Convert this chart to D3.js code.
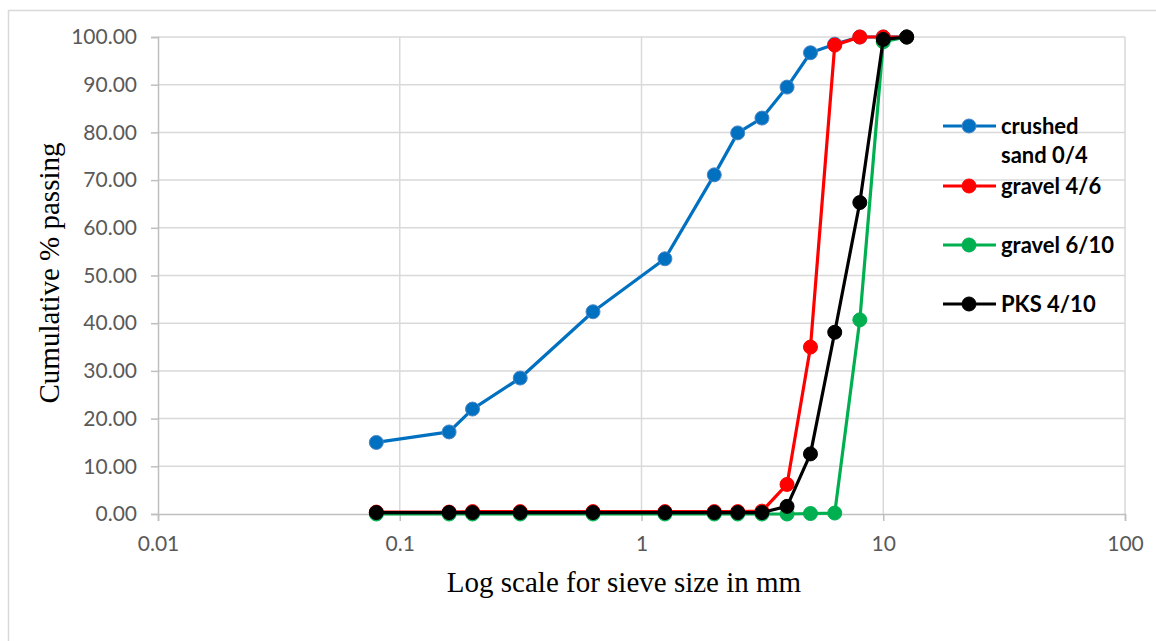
<!doctype html>
<html>
<head>
<meta charset="utf-8">
<script src="https://d3js.org/d3.v7.min.js"></script>
<style>
  body { margin: 0; background: #fff; }
  svg { display: block; }
  .tick text { font-family: Lato, "Open Sans", sans-serif; font-size: 21px; fill: #595959; }
  .title { font-family: "Liberation Serif", "Times New Roman", serif; font-size: 29px; fill: #000; }
  .legend text { font-family: Lato, sans-serif; font-weight: bold; font-size: 22px; fill: #000; }
</style>
</head>
<body>
<svg id="chart" width="1156" height="641"></svg>
<script>
// sieve sizes in mm
var sieves = [0.08, 0.16, 0.2, 0.315, 0.63, 1.25, 2, 2.5, 3.15, 4, 5, 6.3, 8, 10, 12.5];

var crushedSand = [15.0, 17.2, 22.0, 28.5, 42.4, 53.5, 71.1, 79.9, 83.0, 89.5, 96.7, 98.5, 100, 100, 100];
var gravel46    = [0.4, 0.4, 0.5, 0.5, 0.5, 0.5, 0.5, 0.5, 0.6, 6.2, 35.0, 98.3, 100, 100, 100];
var gravel610   = [0.0, 0.0, 0.0, 0.0, 0.0, 0.0, 0.0, 0.0, 0.0, 0.0, 0.1, 0.2, 40.7, 99.0, 100];
var pks410      = [0.3, 0.3, 0.3, 0.3, 0.3, 0.3, 0.3, 0.3, 0.3, 1.6, 12.6, 38.1, 65.3, 99.5, 100];

var seriesNames = ["crushed sand 0/4", "gravel 4/6", "gravel 6/10", "PKS 4/10"];
var seriesColors = ["#0070C0", "#FF0000", "#00B050", "#000000"];
var seriesValues = [crushedSand, gravel46, gravel610, pks410];

var xTicks = [0.01, 0.1, 1, 10, 100];
var yTicks = d3.range(0, 101, 10);

var margin = {left: 158, right: 31, top: 37, bottom: 127};
var width = 1156, height = 641;

var svg = d3.select("#chart");

// outer chart border
svg.append("rect")
  .attr("x", 8.5).attr("y", 10.5)
  .attr("width", 1160).attr("height", 700)
  .attr("fill", "none").attr("stroke", "#d9d9d9").attr("stroke-width", 1.5);

var x = d3.scaleLog().domain([0.01, 100]).range([margin.left, width - margin.right]);
var y = d3.scaleLinear().domain([0, 100]).range([height - margin.bottom, margin.top]);

// gridlines
svg.append("g").selectAll("line").data(yTicks.slice(1)).join("line")
  .attr("x1", x(0.01)).attr("x2", x(100))
  .attr("y1", d => y(d)).attr("y2", d => y(d))
  .attr("stroke", "#d9d9d9").attr("stroke-width", 1.5);
svg.append("g").selectAll("line").data(xTicks.slice(1)).join("line")
  .attr("x1", d => x(d)).attr("x2", d => x(d))
  .attr("y1", y(0)).attr("y2", y(100))
  .attr("stroke", "#d9d9d9").attr("stroke-width", 1.5);

// axes
var xAxis = svg.append("g")
  .attr("transform", "translate(0," + y(0) + ")")
  .call(d3.axisBottom(x).tickValues(xTicks).tickFormat(d => String(d)).tickSizeOuter(0).tickSize(7).tickPadding(10));
var yAxis = svg.append("g")
  .attr("transform", "translate(" + x(0.01) + ",0)")
  .call(d3.axisLeft(y).tickValues(yTicks).tickFormat(d3.format(".2f")).tickSizeOuter(0).tickSize(7).tickPadding(14));
[xAxis, yAxis].forEach(function(a) {
  a.select(".domain").attr("stroke", "#bfbfbf").attr("stroke-width", 1.5);
  a.selectAll(".tick line").attr("stroke", "#bfbfbf").attr("stroke-width", 1.5);
});
xAxis.selectAll(".tick text").attr("dy", "0.95em");

// axis titles
svg.append("text").attr("class", "title")
  .attr("x", 624).attr("y", 592).attr("text-anchor", "middle")
  .text("Log scale for sieve size in mm");
svg.append("text").attr("class", "title")
  .attr("transform", "translate(59,273) rotate(-90)").attr("text-anchor", "middle")
  .text("Cumulative % passing");

// series
var line = d3.line().x(d => x(d[0])).y(d => y(d[1]));
seriesValues.forEach(function(vals, i) {
  var pts = sieves.map((s, j) => [s, vals[j]]);
  var g = svg.append("g");
  g.append("path").datum(pts)
    .attr("d", line).attr("fill", "none")
    .attr("stroke", seriesColors[i]).attr("stroke-width", 3.2)
    .attr("stroke-linejoin", "round");
  g.selectAll("circle").data(pts).join("circle")
    .attr("cx", d => x(d[0])).attr("cy", d => y(d[1])).attr("r", 7)
    .attr("fill", seriesColors[i])
    .attr("stroke", i === 0 ? "#4a86c6" : seriesColors[i]).attr("stroke-width", 1);
});

// legend
var legendY = [126, 186, 245, 304];
var legend = svg.append("g").attr("class", "legend");
seriesNames.forEach(function(name, i) {
  var g = legend.append("g").attr("transform", "translate(0," + legendY[i] + ")");
  g.append("line").attr("x1", 943).attr("x2", 996)
    .attr("stroke", seriesColors[i]).attr("stroke-width", 3.2);
  g.append("circle").attr("cx", 969).attr("r", 7)
    .attr("fill", seriesColors[i])
    .attr("stroke", i === 0 ? "#4a86c6" : seriesColors[i]).attr("stroke-width", 1);
  var lines = i === 0 ? ["crushed", "sand 0/4"] : [name];
  lines.forEach(function(t, k) {
    g.append("text").attr("x", 1001).attr("y", k * 29).attr("dy", "0.35em").text(t);
  });
});
</script>
</body>
</html>
